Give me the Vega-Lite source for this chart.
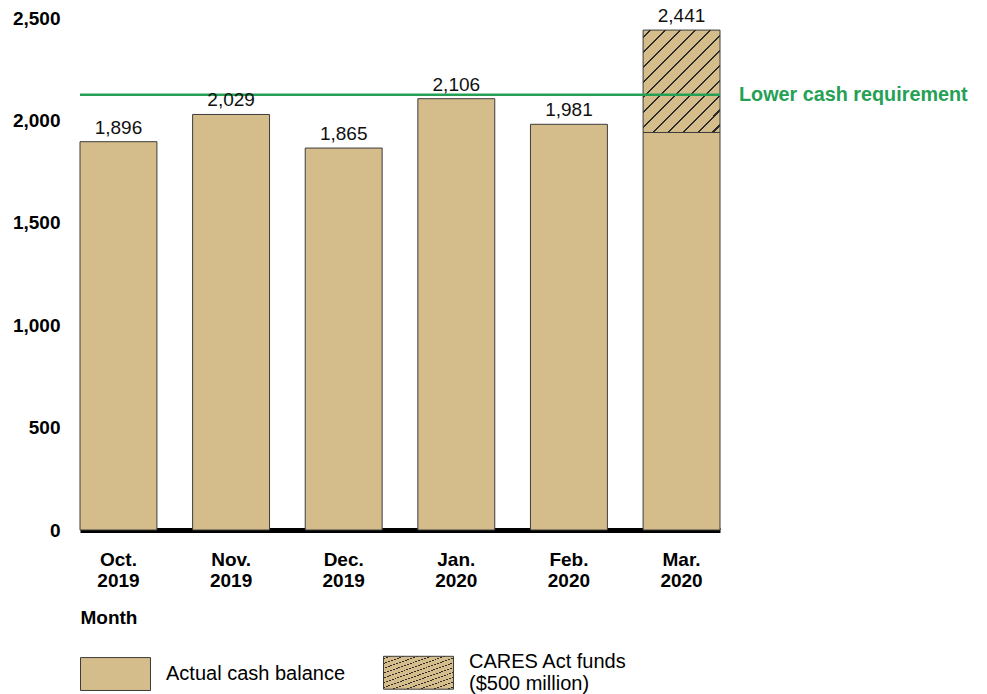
{
  "$schema": "https://vega.github.io/schema/vega-lite/v6.json",
  "autosize": "none",
  "width": 640,
  "height": 512,
  "padding": {"left": 80, "top": 18, "right": 267, "bottom": 164},
  "background": "white",
  "config": {"view": {"stroke": null}, "font": "Liberation Sans"},
  "data": {"values": [
    {"month": "Oct. 2019", "part": "Actual cash balance", "value": 1896},
    {"month": "Nov. 2019", "part": "Actual cash balance", "value": 2029},
    {"month": "Dec. 2019", "part": "Actual cash balance", "value": 1865},
    {"month": "Jan. 2020", "part": "Actual cash balance", "value": 2106},
    {"month": "Feb. 2020", "part": "Actual cash balance", "value": 1981},
    {"month": "Mar. 2020", "part": "Actual cash balance", "value": 1941},
    {"month": "Mar. 2020", "part": "CARES Act funds ($500 million)", "value": 500}
  ]},
  "layer": [
    {
      "mark": {"type": "bar", "stroke": "#3c3c3c", "strokeWidth": 1},
      "encoding": {
        "x": {
          "field": "month", "type": "ordinal", "sort": null,
          "scale": {"paddingInner": 0.317, "paddingOuter": 0},
          "axis": {
            "title": "Month",
            "labelExpr": "split(datum.label, ' ')",
            "labelFontWeight": "bold", "labelFontSize": 19, "labelColor": "black",
            "labelAngle": 0, "labelLineHeight": 21, "labelPadding": 20,
            "ticks": false, "domainWidth": 5, "domainColor": "black",
            "titleFontSize": 19, "titleFontWeight": "bold", "titleColor": "black",
            "titleAnchor": "start", "titleAlign": "left", "titleX": 0, "titleY": 87, "titleBaseline": "middle"
          }
        },
        "y": {
          "field": "value", "type": "quantitative",
          "scale": {"domain": [0, 2500], "nice": false},
          "axis": {
            "title": null, "values": [0, 500, 1000, 1500, 2000, 2500], "format": ",.0f",
            "labelFontWeight": "bold", "labelFontSize": 19, "labelColor": "black",
            "ticks": false, "domain": false, "grid": false, "labelPadding": 20
          }
        },
        "order": {"field": "part", "sort": "ascending"},
        "fill": {
          "field": "part", "type": "nominal",
          "scale": {
            "domain": ["Actual cash balance", "CARES Act funds ($500 million)"],
            "range": [
              "#D4BD8B",
              {"expr": "{gradient: 'linear', x1: 0, y1: 0, x2: 0.844, y2: 1.118, stops: [{offset: 0, color: '#D4BD8B'}, {offset: 0.0357, color: '#D4BD8B'}, {offset: 0.0357, color: '#2a2a2a'}, {offset: 0.0477, color: '#2a2a2a'}, {offset: 0.0477, color: '#D4BD8B'}, {offset: 0.119, color: '#D4BD8B'}, {offset: 0.119, color: '#2a2a2a'}, {offset: 0.131, color: '#2a2a2a'}, {offset: 0.131, color: '#D4BD8B'}, {offset: 0.2023, color: '#D4BD8B'}, {offset: 0.2023, color: '#2a2a2a'}, {offset: 0.2143, color: '#2a2a2a'}, {offset: 0.2143, color: '#D4BD8B'}, {offset: 0.2857, color: '#D4BD8B'}, {offset: 0.2857, color: '#2a2a2a'}, {offset: 0.2977, color: '#2a2a2a'}, {offset: 0.2977, color: '#D4BD8B'}, {offset: 0.369, color: '#D4BD8B'}, {offset: 0.369, color: '#2a2a2a'}, {offset: 0.381, color: '#2a2a2a'}, {offset: 0.381, color: '#D4BD8B'}, {offset: 0.4523, color: '#D4BD8B'}, {offset: 0.4523, color: '#2a2a2a'}, {offset: 0.4643, color: '#2a2a2a'}, {offset: 0.4643, color: '#D4BD8B'}, {offset: 0.5357, color: '#D4BD8B'}, {offset: 0.5357, color: '#2a2a2a'}, {offset: 0.5477, color: '#2a2a2a'}, {offset: 0.5477, color: '#D4BD8B'}, {offset: 0.619, color: '#D4BD8B'}, {offset: 0.619, color: '#2a2a2a'}, {offset: 0.631, color: '#2a2a2a'}, {offset: 0.631, color: '#D4BD8B'}, {offset: 0.7023, color: '#D4BD8B'}, {offset: 0.7023, color: '#2a2a2a'}, {offset: 0.7143, color: '#2a2a2a'}, {offset: 0.7143, color: '#D4BD8B'}, {offset: 0.7857, color: '#D4BD8B'}, {offset: 0.7857, color: '#2a2a2a'}, {offset: 0.7977, color: '#2a2a2a'}, {offset: 0.7977, color: '#D4BD8B'}, {offset: 0.869, color: '#D4BD8B'}, {offset: 0.869, color: '#2a2a2a'}, {offset: 0.881, color: '#2a2a2a'}, {offset: 0.881, color: '#D4BD8B'}, {offset: 0.9523, color: '#D4BD8B'}, {offset: 0.9523, color: '#2a2a2a'}, {offset: 0.9643, color: '#2a2a2a'}, {offset: 0.9643, color: '#D4BD8B'}, {offset: 1, color: '#D4BD8B'}]}"}
            ]
          },
          "legend": {
            "title": null, "orient": "none", "legendX": 0, "legendY": 619,
            "direction": "horizontal",
            "symbolType": "M-1,-0.47H1V0.47H-1Z", "symbolSize": 4900,
            "symbolStrokeColor": "#3c3c3c", "symbolStrokeWidth": 1,
            "labelFontSize": 20, "labelColor": "black", "labelOffset": 15,
            "labelLineHeight": 22,
            "labelBaseline": {"expr": "datum.index == 1 ? 'line-bottom' : 'middle'"},
            "columnPadding": 35, "labelLimit": 400,
            "labelExpr": "datum.label == 'CARES Act funds ($500 million)' ? ['CARES Act funds', '($500 million)'] : datum.label"
          }
        }
      }
    },
    {
      "data": {"values": [{}]},
      "mark": {"type": "rule", "color": "#25A055", "strokeWidth": 2.5},
      "encoding": {"y": {"datum": 2125}}
    },
    {
      "data": {"values": [{}]},
      "mark": {"type": "text", "x": "width", "dx": 19, "align": "left", "baseline": "middle", "fontWeight": "bold", "fontSize": 19.8, "color": "#25A055", "text": "Lower cash requirement"},
      "encoding": {"y": {"datum": 2125}}
    },
    {
      "mark": {"type": "text", "baseline": "alphabetic", "dy": -8, "fontSize": 19, "color": "#111111"},
      "encoding": {
        "x": {"field": "month", "type": "ordinal", "sort": null},
        "y": {"aggregate": "sum", "field": "value", "type": "quantitative"},
        "text": {"aggregate": "sum", "field": "value", "type": "quantitative", "format": ","}
      }
    }
  ]
}
